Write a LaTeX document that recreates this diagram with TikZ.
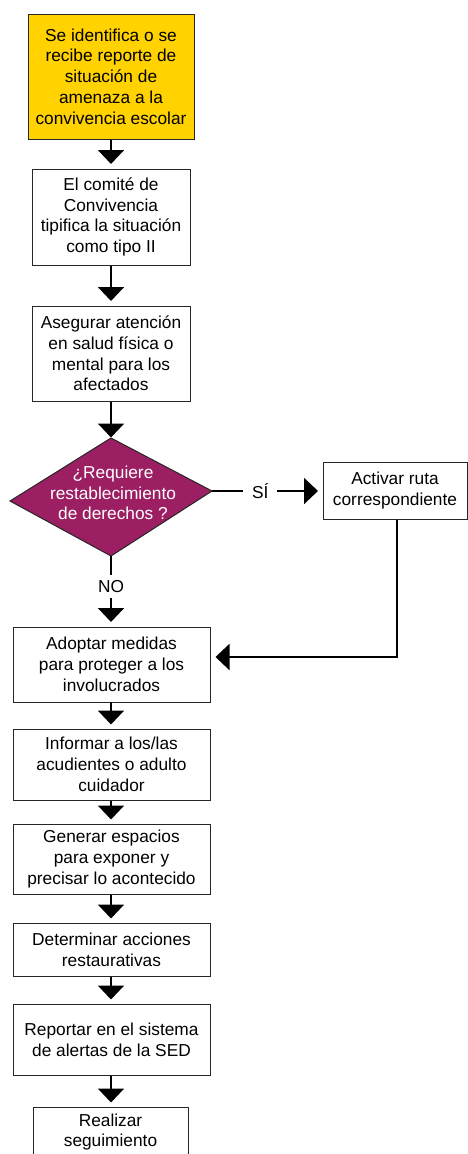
\documentclass[tikz,border=0pt]{standalone}
\usepackage{fontspec}
\setmainfont{Liberation Sans}
\usetikzlibrary{arrows.meta}
\definecolor{gold}{HTML}{FFD200}
\definecolor{plum}{HTML}{9D1F63}
\tikzset{
  txt/.style={font=\fontsize{17.3pt}{20.7pt}\selectfont, align=center},
  box/.style={txt, draw=black!85, line width=1pt, fill=white, inner sep=0pt, rectangle},
  arr/.style={line width=2pt, -{Triangle[width=26pt,length=14pt]}, shorten >=4.5pt},
  lbl/.style={txt, fill=white, inner ysep=5pt},
}
\begin{document}
\begin{tikzpicture}[x=1pt,y=-1pt]
\useasboundingbox (0,0) rectangle (468,1154);
\fill[white] (0,0) rectangle (468,1154);

\node[box, fill=gold, minimum width=166pt, minimum height=125pt] (n1) at (111,76.5)
  {Se identifica o se\\recibe reporte de\\situación de\\amenaza a la\\convivencia escolar};
\node[box, minimum width=158pt, minimum height=96pt] (n2) at (111,217)
  {El comité de\\Convivencia\\tipifica la situación\\como tipo II};
\node[box, minimum width=158pt, minimum height=95pt] (n3) at (111,353.5)
  {Asegurar atención\\en salud física o\\mental para los\\afectados};

% decision
\coordinate (dT) at (111,438);
\coordinate (dR) at (212,491);
\coordinate (dB) at (111,556);
\coordinate (dL) at (10,501);
\draw[fill=plum, draw=black!85, line width=1pt] (dT) -- (dR) -- (dB) -- (dL) -- cycle;
\node[txt, text=white] (dq) at (113,493) {¿Requiere\\restablecimiento\\de derechos ?};

\node[box, minimum width=144pt, minimum height=57pt] (act) at (395,490.5)
  {Activar ruta\\correspondiente};

\node[box, minimum width=197pt, minimum height=75pt] (n4) at (111.5,664.5)
  {Adoptar medidas\\para proteger a los\\involucrados};
\node[box, minimum width=197pt, minimum height=71pt] (n5) at (111.5,764.5)
  {Informar a los/las\\acudientes o adulto\\cuidador};
\node[box, minimum width=197pt, minimum height=70pt] (n6) at (111.5,859)
  {Generar espacios\\para exponer y\\precisar lo acontecido};
\node[box, minimum width=197pt, minimum height=53pt] (n7) at (111.5,949.5)
  {Determinar acciones\\restaurativas};
\node[box, minimum width=197pt, minimum height=71pt] (n8) at (111.5,1039.5)
  {Reportar en el sistema\\de alertas de la SED};
\node[box, minimum width=155pt, minimum height=50pt] (n9) at (110.5,1132)
  {Realizar\\seguimiento};

% connectors
\draw[arr] (n1.south) -- (n1.south |- n2.north);
\draw[arr] (n2.south) -- (n2.south |- n3.north);
\draw[arr, shorten >=0.5pt] (n3.south) -- (dT);
\draw[arr] (dR) -- node[lbl, pos=0.437, inner xsep=9pt, inner ysep=2pt] (si) {SÍ} (act.west |- dR);
\draw[arr] (dB) -- node[lbl, pos=0.43, inner ysep=5.3pt] (no) {NO} (dB |- n4.north);
\coordinate (bend) at (397,657);
\draw[arr, shorten >=5pt] (act.south -| bend) -- (bend) -- (n4.east |- bend);
\draw[arr] (111,702) -- (111,729);
\draw[arr] (n5.south -| 111,0) -- (111,824);
\draw[arr] (n6.south -| 111,0) -- (111,923);
\draw[arr] (n7.south -| 111,0) -- (111,1004);
\draw[arr] (n8.south -| 111,0) -- (111,1107);
\end{tikzpicture}
\end{document}
